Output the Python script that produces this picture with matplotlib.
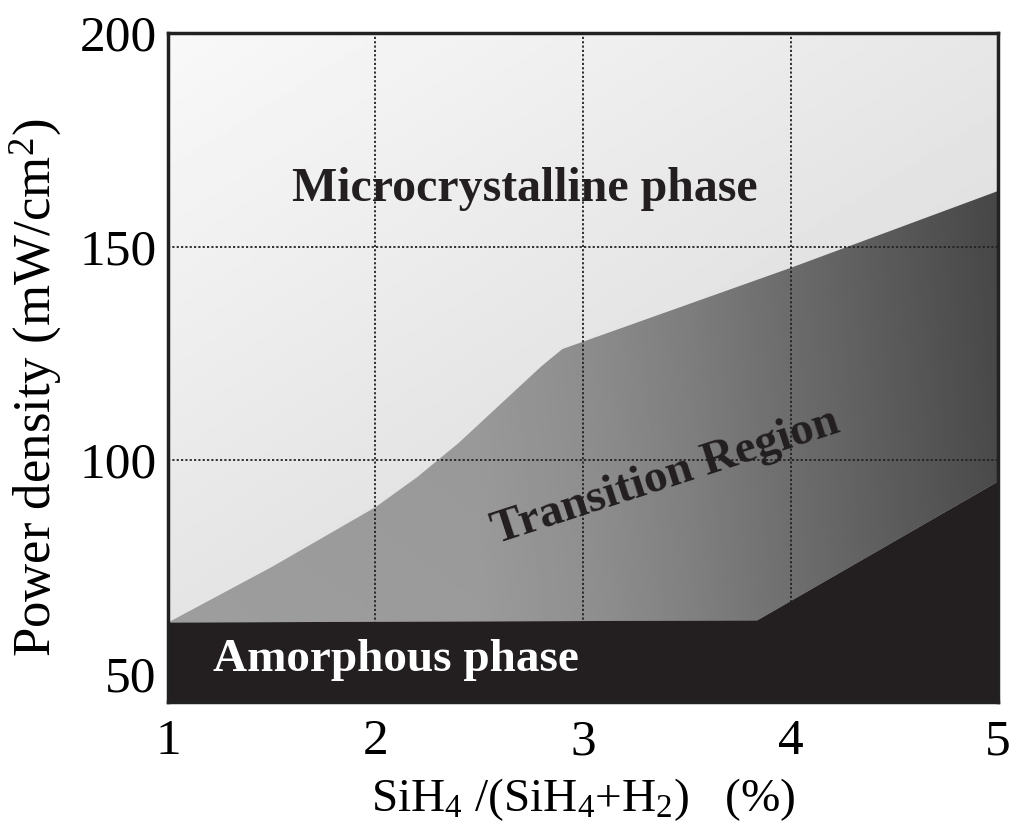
import numpy as np
import matplotlib
matplotlib.use("Agg")
from matplotlib import pyplot as plt

plt.rcParams['font.family'] = ['Liberation Serif', 'DejaVu Serif']
plt.rcParams['mathtext.default'] = 'regular'

# boundary between microcrystalline and transition region
upper_x = [1.0, 1.5, 2.0, 2.2, 2.4, 2.6, 2.8, 2.9, 4.0, 5.0]
upper_y = [62, 75, 89, 96, 104, 113, 122, 126, 145, 163]
# boundary between transition and amorphous phase
lower_x = [1.0, 3.84, 5.0]
lower_y = [62, 62.5, 95]

xmin, xmax = 1, 5
ymin, ymax = 43.4, 200
xticks = [1, 2, 3, 4, 5]
yticks = [50, 100, 150, 200]

fig = plt.figure(figsize=(10.15, 8.23), dpi=100)
ax = fig.add_axes([0.1655, 0.147, 0.8178, 0.813])
ax.set_xlim(xmin, xmax)
ax.set_ylim(ymin, ymax)

ext = [xmin, xmax, ymin, ymax]
gx, gy = np.meshgrid(np.linspace(0, 1, 300), np.linspace(1, 0, 300))

# microcrystalline background: light diagonal gradient
micro = 0.975 - 0.07 * gx - 0.09 * (1 - gy)
ax.imshow(micro, extent=ext, aspect='auto', cmap='gray', vmin=0, vmax=1,
          interpolation='bilinear', zorder=0.1)

# transition region polygon with horizontal gradient
tx = upper_x + lower_x[::-1]
ty = upper_y + lower_y[::-1]
trans_patch = ax.fill(tx, ty, facecolor='none', edgecolor='none', zorder=1)[0]
xs = np.linspace(xmin, xmax, 300)
shade = np.interp(xs, [1, 2.5, 3.0, 3.5, 4.0, 4.5, 5.0],
                  [0.62, 0.61, 0.57, 0.51, 0.44, 0.37, 0.30])
trans = np.tile(shade, (300, 1)) - 0.03 * gy
im = ax.imshow(trans, extent=ext, aspect='auto', cmap='gray', vmin=0, vmax=1,
               interpolation='bilinear', zorder=1)
im.set_clip_path(trans_patch)

# amorphous phase
ax.fill(lower_x + [5, 1], lower_y + [ymin, ymin], color='#231f20', lw=0, zorder=2)

ax.set_axisbelow('line')
ax.grid(True, color='#222222', linestyle=(0, (1.2, 1.2)), linewidth=1.3)
ax.set_xticks(xticks)
ax.set_yticks(yticks)
ax.tick_params(length=0, labelsize=37, pad=12)
ax.tick_params(axis='y', pad=8)
for s in ax.spines.values():
    s.set_linewidth(2.5)
    s.set_color('#222222')
    s.set_zorder(5)

ax.text(2.72, 163.5, 'Microcrystalline phase', fontsize=34.5, fontweight='bold',
        ha='center', va='center', color='#231f20', zorder=4)
ax.text(3.4, 96, 'Transition Region', fontsize=34, fontweight='bold',
        ha='center', va='center', rotation=18, color='#231f20', zorder=4)
ax.text(2.1, 53.3, 'Amorphous phase', fontsize=34, fontweight='bold',
        ha='center', va='center', color='white', zorder=4)

ax.set_xlabel(r'SiH$_4$ /(SiH$_4$+H$_2$)   (%)', fontsize=34, labelpad=8)
ax.set_ylabel(r'Power density (mW/cm$^2$)', fontsize=38)
ax.yaxis.set_label_coords(-0.125, 0.47)

fig.savefig('out.png', dpi=100)
